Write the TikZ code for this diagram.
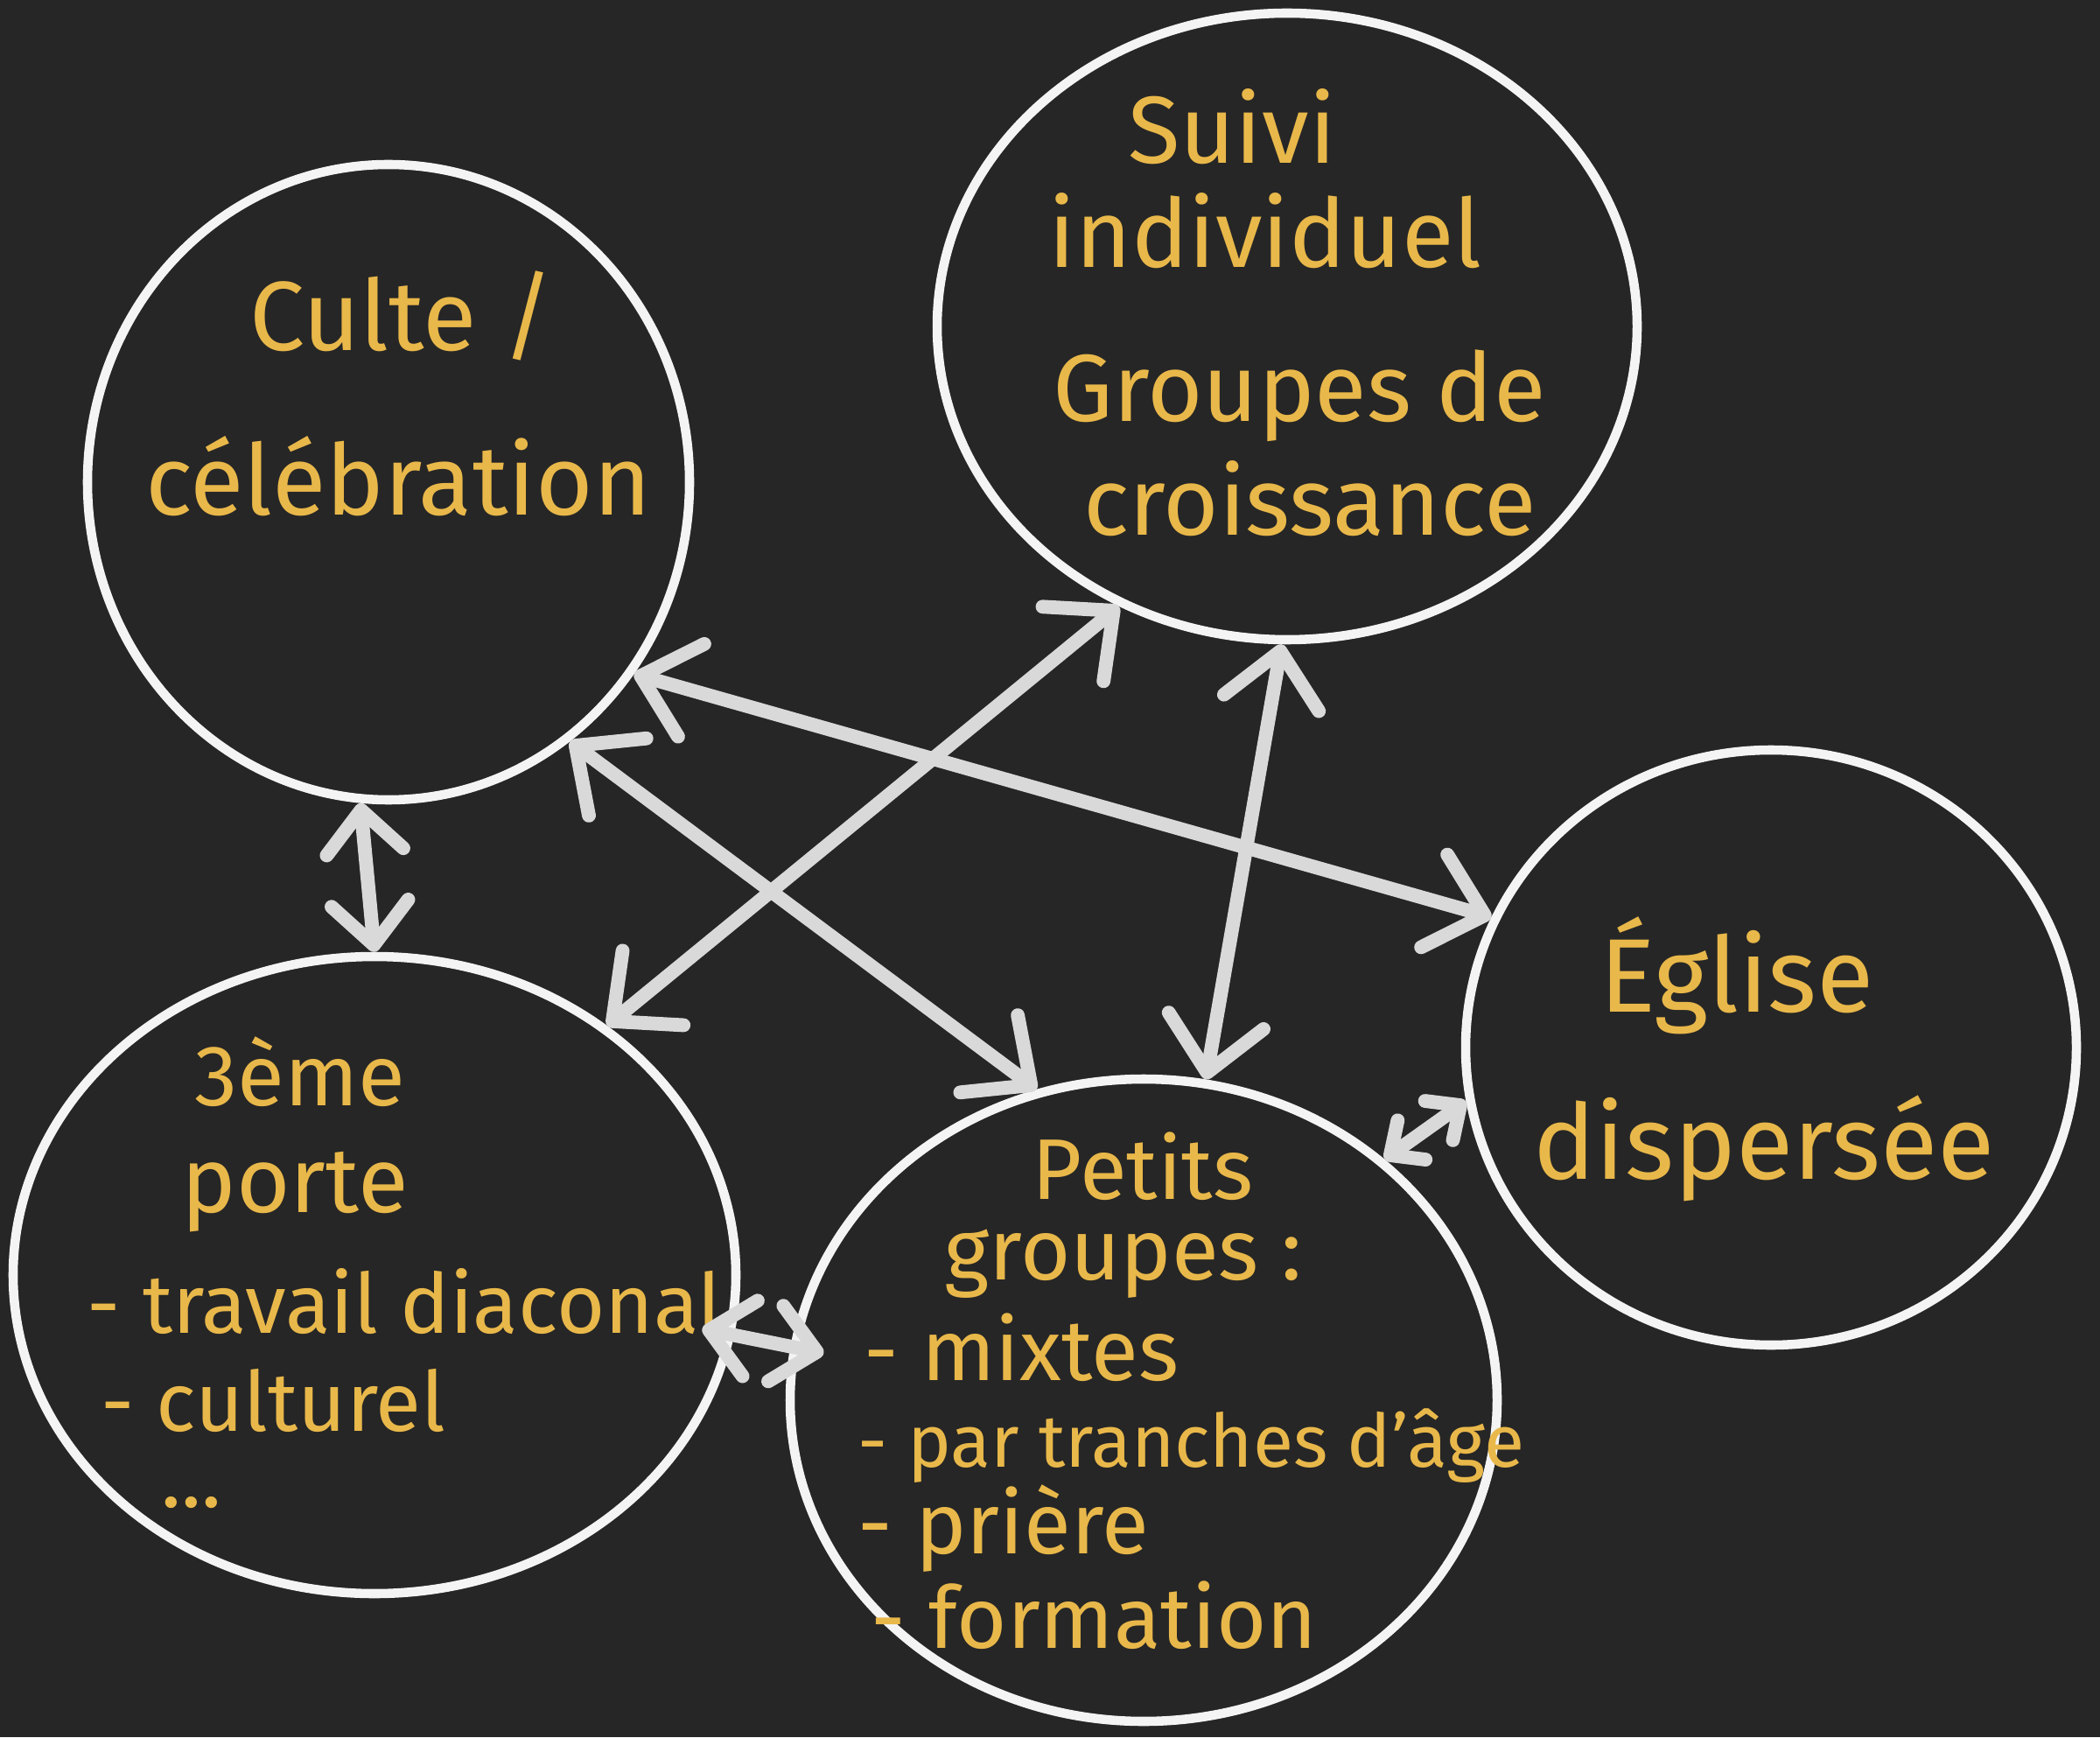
\documentclass[tikz,border=0pt]{standalone}
\usepackage{fontspec}
\setmainfont{Fira Sans}
\usetikzlibrary{shapes.geometric,arrows.meta}
\definecolor{fond}{HTML}{262626}
\definecolor{craie}{HTML}{F4F4F4}
\definecolor{fleche}{HTML}{D9D9D9}
\definecolor{jaune}{HTML}{E9B84A}
\tikzset{
	zone/.style={ellipse, draw=craie, line width=3pt, inner sep=0pt},
	lien/.style={draw=fleche, line width=4.5pt, line cap=round,
		{Straight Barb[length=6mm,width=11mm,round,scale=#1]}-{Straight Barb[length=6mm,width=11mm,round,scale=#1]}},
	lien/.default=1,
	txt/.style={text=jaune, inner sep=0pt, font=\fontsize{#1}{#1}\selectfont},
	txt/.default=30,
}
\begin{document}
\begin{tikzpicture}
			\fill[fond] (0,0) rectangle (24,19.85);
			\useasboundingbox (0,0) rectangle (24,19.85);
			% les cinq zones
			\node[zone, minimum width=6.88cm, minimum height=7.26cm] (culte) at (4.44,14.34) {};
			\node[zone, minimum width=8.00cm, minimum height=7.16cm] (suivi) at (14.71,16.12) {};
			\node[zone, minimum width=8.26cm, minimum height=7.28cm] (porte) at (4.28,5.28) {};
			\node[zone, minimum width=8.08cm, minimum height=7.34cm] (petits) at (13.07,3.85) {};
			\node[zone, minimum width=6.98cm, minimum height=6.80cm] (eglise) at (20.24,7.88) {};
			% textes
			\node[txt=32, anchor=base] (c1) at (4.59,15.84) {Culte /};
			\node[txt=32, anchor=base] (c2) at (4.55,13.96) {célébration};
			\node[txt=31, anchor=base] (s1) at (14.08,17.98) {Suivi};
			\node[txt=31, anchor=base] (s2) at (14.46,16.79) {individuel};
			\node[txt=31, anchor=base] (s3) at (14.85,15.03) {Groupes de};
			\node[txt=31, anchor=base] (s4) at (14.97,13.73) {croissance};
			\node[txt=28, anchor=base west] (p1) at (2.22,7.22) {3ème};
			\node[txt=30, anchor=base west] (p2) at (2.07,6.00) {porte};
			\node[txt=27, anchor=base west] (p3) at (0.99,4.62) {- travail diaconal};
			\node[txt=27, anchor=base west] (p4) at (1.15,3.50) {- culturel};
			\node[txt=27, anchor=base west] (p5) at (1.84,2.63) {...};
			\node[txt=28, anchor=base west] (g1) at (11.79,6.15) {Petits};
			\node[txt=28, anchor=base west] (g2) at (10.79,5.23) {groupes :};
			\node[txt=28, anchor=base west] (g3) at (9.87,4.08) {- mixtes};
			\node[txt=24, anchor=base west] (g4) at (9.80,3.09) {- par tranches d'âge};
			\node[txt=28, anchor=base west] (g5) at (9.80,2.10) {- prière};
			\node[txt=28, anchor=base west] (g6) at (9.95,1.02) {- formation};
			\node[txt=34, anchor=base] (e1) at (19.85,8.29) {Église};
			\node[txt=34, anchor=base] (e2) at (20.16,6.38) {dispersée};
			% liens
			\draw[lien=0.8] (culte.-95) -- (porte.90);
			\draw[lien] (culte.-38) -- (eglise.155);
			\draw[lien] (culte.-55) -- (petits.109);
			\draw[lien] (suivi.-121) -- (porte.47);
			\draw[lien] (suivi.-91) -- (petits.79);
			\draw[lien=0.8] ([xshift=-3.4mm,yshift=1.8mm]porte.-11) -- ([xshift=4.1mm,yshift=1.1mm]petits.174);
			\draw[lien=0.5] (eglise.-170) -- (petits.45);
		\end{tikzpicture}
\end{document}
